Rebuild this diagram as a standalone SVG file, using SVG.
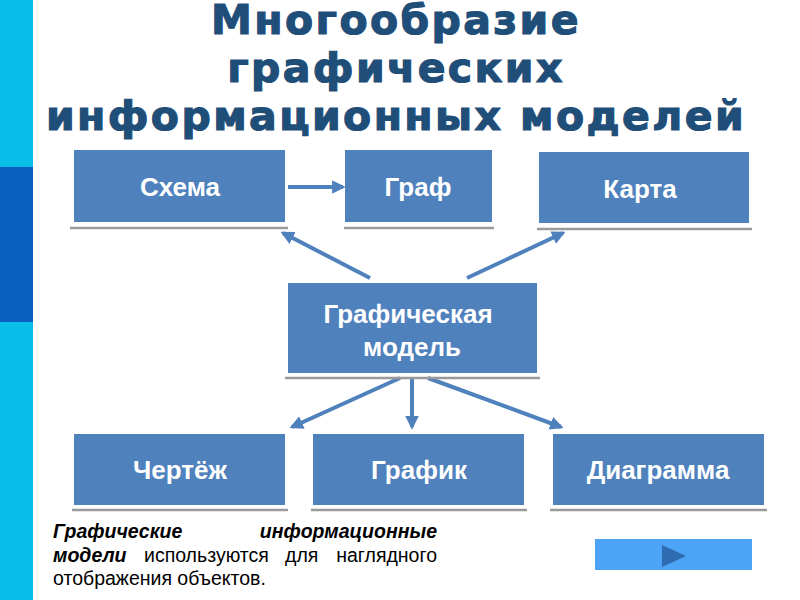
<svg xmlns="http://www.w3.org/2000/svg" width="800" height="600" viewBox="0 0 800 600">
<defs>
<style>
.box{fill:#4f81bd}
.sh{stroke:#9a9a9a;stroke-width:2.5}
.bt{font-family:"Liberation Sans",Arial,sans-serif;font-weight:bold;font-size:26px;fill:#fff;text-anchor:middle}
.title{font-family:"DejaVu Sans",Verdana,sans-serif;font-weight:bold;font-size:41px;fill:#1f4e79;stroke:#1f4e79;stroke-width:1.2px;text-anchor:middle;letter-spacing:2.4px}
.c{stroke:#4f81bd;stroke-width:4;fill:none;marker-end:url(#ah)}
.p{font-family:"Liberation Sans",Arial,sans-serif;font-size:19.5px;fill:#000}
.bi{font-weight:bold;font-style:italic}
</style>
<marker id="ah" viewBox="0 0 10 10" refX="8" refY="5" markerWidth="3.4" markerHeight="3.4" orient="auto" markerUnits="strokeWidth">
<path d="M0,0 L10,5 L0,10 z" fill="#4f81bd"/>
</marker>
</defs>
<rect width="800" height="600" fill="#fff"/>
<rect x="0" y="0" width="33" height="600" fill="#0bbde9"/>
<rect x="0" y="167" width="33" height="155" fill="#0a5fbf"/>
<g id="title">
<text class="title" x="396" y="34">Многообразие</text>
<text class="title" x="396" y="82">графических</text>
<text class="title" x="396" y="130">информационных моделей</text>
</g>
<g id="connectors">
<line class="c" x1="288" y1="187" x2="343" y2="187"/>
<line class="c" x1="370" y1="278" x2="283" y2="233"/>
<line class="c" x1="467" y1="278" x2="563" y2="233"/>
<line class="c" x1="400" y1="378" x2="292" y2="427"/>
<line class="c" x1="412" y1="378" x2="412" y2="427"/>
<line class="c" x1="428" y1="378" x2="561" y2="427"/>
</g>
<g id="schema">
<rect class="box" x="74" y="150" width="211" height="72"/>
<line class="sh" x1="70" y1="228" x2="288" y2="228"/>
<text class="bt" x="180" y="196">Схема</text>
</g>
<g id="graf">
<rect class="box" x="345" y="150" width="147" height="72"/>
<line class="sh" x1="344" y1="228" x2="494" y2="228"/>
<text class="bt" x="418" y="196">Граф</text>
</g>
<g id="karta">
<rect class="box" x="539" y="152" width="210" height="71"/>
<line class="sh" x1="537" y1="229" x2="752" y2="229"/>
<text class="bt" x="640" y="198">Карта</text>
</g>
<g id="model">
<rect class="box" x="288" y="283" width="249" height="90"/>
<line class="sh" x1="285" y1="378" x2="540" y2="378"/>
<text class="bt" x="408" y="323">Графическая</text>
<text class="bt" x="412" y="356">модель</text>
</g>
<g id="chertezh">
<rect class="box" x="74" y="434" width="211" height="71"/>
<line class="sh" x1="72" y1="510" x2="288" y2="510"/>
<text class="bt" x="180" y="479">Чертёж</text>
</g>
<g id="grafik">
<rect class="box" x="313" y="434" width="211" height="71"/>
<line class="sh" x1="311" y1="510" x2="527" y2="510"/>
<text class="bt" x="419" y="479">График</text>
</g>
<g id="diagramma">
<rect class="box" x="553" y="434" width="211" height="71"/>
<line class="sh" x1="550" y1="510" x2="767" y2="510"/>
<text class="bt" x="658" y="479">Диаграмма</text>
</g>
<g id="note">
<text class="p bi" x="53" y="538">Графические</text>
<text class="p bi" x="437" y="538" text-anchor="end">информационные</text>
<text class="p bi" x="53" y="562">модели</text>
<text class="p" x="144" y="562">используются</text>
<text class="p" x="285" y="562">для</text>
<text class="p" x="437" y="562" text-anchor="end">наглядного</text>
<text class="p" x="53" y="585">отображения объектов.</text>
</g>
<g id="button">
<rect x="595" y="539" width="157" height="31" fill="#4da3f5"/>
<path d="M662,545 L686,556 L662,567 z" fill="#2e6bb0"/>
</g>
</svg>
